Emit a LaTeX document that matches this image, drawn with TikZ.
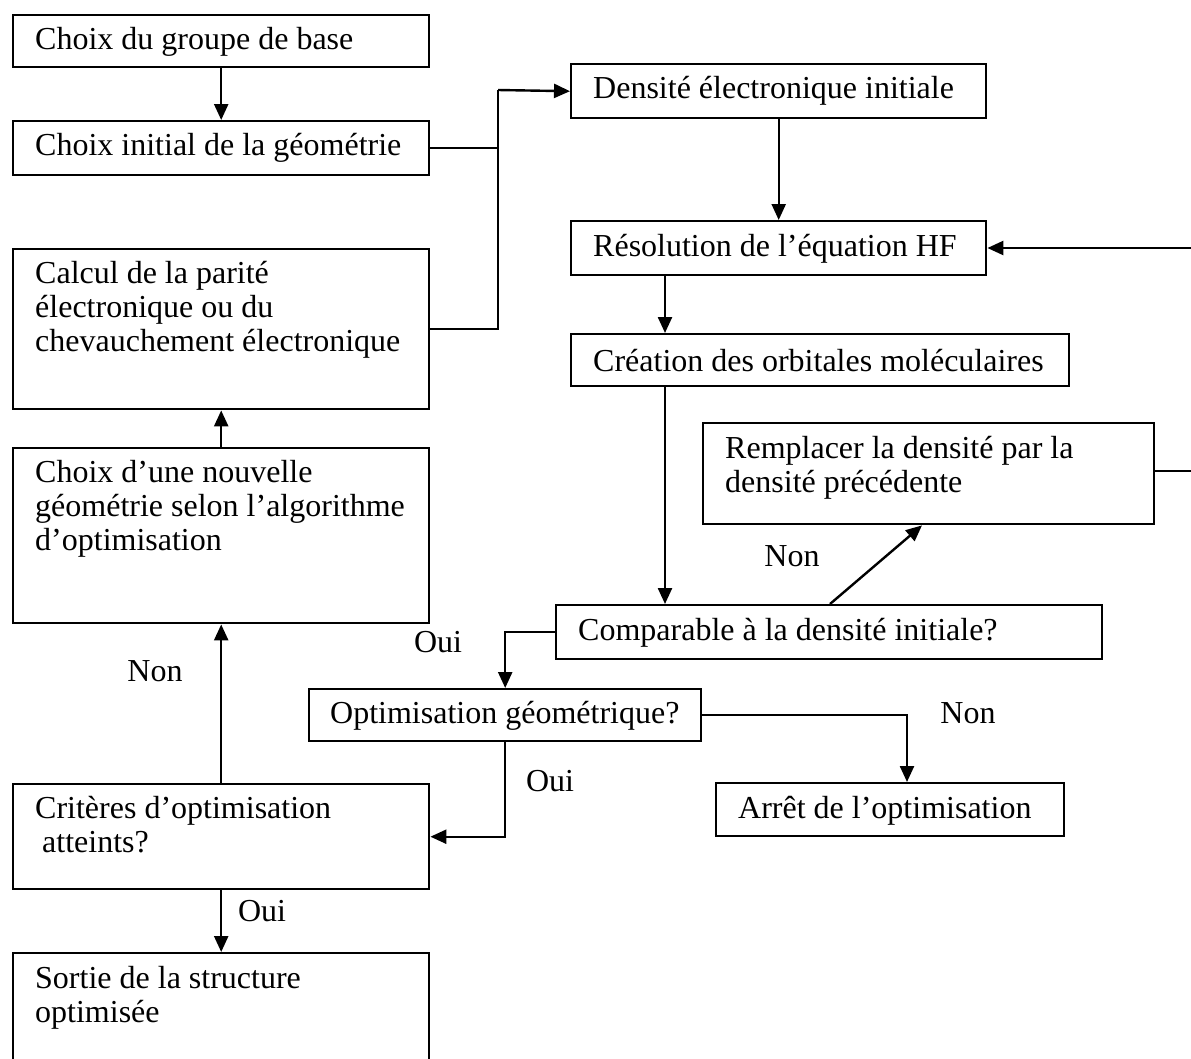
\documentclass[tikz,border=0pt]{standalone}
\usepackage{fontspec}
\setmainfont{Liberation Serif}
\usetikzlibrary{arrows.meta}
\begin{document}
\begin{tikzpicture}[x=1pt,y=-1pt,
  box/.style={draw, line width=2.4pt, rectangle, inner sep=0pt, anchor=north west},
  txt/.style={anchor=west, inner sep=0pt, font=\fontsize{32}{34}\selectfont},
  mtxt/.style={anchor=north west, inner sep=0pt, align=left, font=\fontsize{32}{34}\selectfont},
  lbl/.style={inner sep=0pt, font=\fontsize{32}{34}\selectfont},
  conn/.style={line width=2.4pt},
  arr/.style={line width=2.4pt, -{Triangle[length=16pt,width=14pt]}}]
\clip (0,0) rectangle (1191,1058);
\fill[white] (0,0) rectangle (1191,1058);
% left column
\node[box, minimum width=416pt, minimum height=52pt] (b1) at (12,14) {};
\node[txt] (t1) at (35,42) {Choix du groupe de base};
\node[box, minimum width=416pt, minimum height=54pt] (b2) at (12,120) {};
\node[txt] (t2) at (35,148) {Choix initial de la géométrie};
\node[box, minimum width=416pt, minimum height=160pt] (b3) at (12,248) {};
\node[mtxt] (t3) at (35,261) {Calcul de la parité\\électronique ou du\\chevauchement électronique};
\node[box, minimum width=416pt, minimum height=175pt] (b4) at (12,447) {};
\node[mtxt] (t4) at (35,460) {Choix d’une nouvelle\\géométrie selon l’algorithme\\d’optimisation};
\node[box, minimum width=416pt, minimum height=105pt] (b5) at (12,783) {};
\node[mtxt] (t5) at (35,796) {Critères d’optimisation\\\hspace*{7pt}atteints?};
\node[box, minimum width=416pt, minimum height=160pt] (b6) at (12,952) {};
\node[mtxt] (t6) at (35,966) {Sortie de la structure\\optimisée};
% right column
\node[box, minimum width=415pt, minimum height=54pt] (d1) at (570,63) {};
\node[txt] (u1) at (593,91) {Densité électronique initiale};
\node[box, minimum width=415pt, minimum height=54pt] (d2) at (570,220) {};
\node[txt] (u2) at (593,249) {Résolution de l’équation HF};
\node[box, minimum width=498pt, minimum height=52pt] (d3) at (570,333) {};
\node[txt] (u3) at (593,361) {Création des orbitales moléculaires};
\node[box, minimum width=451pt, minimum height=101pt] (d4) at (702,422) {};
\node[mtxt] (u4) at (725,436) {Remplacer la densité par la\\densité précédente};
\node[box, minimum width=546pt, minimum height=54pt] (d5) at (555,604) {};
\node[txt] (u5) at (578,633) {Comparable à la densité initiale?};
\node[box, minimum width=392pt, minimum height=52pt] (d6) at (308,688) {};
\node[txt] (u6) at (330,716) {Optimisation géométrique?};
\node[box, minimum width=348pt, minimum height=53pt] (d7) at (715,782) {};
\node[txt] (u7) at (738,811) {Arrêt de l’optimisation};
% labels
\node[lbl] (l1) at (792,556) {Non};
\node[lbl] (l2) at (438,642) {Oui};
\node[lbl] (l3) at (155,671) {Non};
\node[lbl] (l4) at (968,713) {Non};
\node[lbl] (l5) at (550,781) {Oui};
\node[lbl] (l6) at (262,911) {Oui};
% helper coordinates
\coordinate (j1) at (498,90);
\coordinate (e1) at (1191,248);
\coordinate (e2) at (1191,471);
\coordinate (c665) at (665,0);
\coordinate (c830) at (830,0);
\coordinate (c922) at (922,0);
\coordinate (c908) at (907,0);
% connectors
\draw[arr] (b1.south) -- (b2.north);
\draw[conn] (b2.east) -| (j1);
\draw[conn] (b3.east) -| (j1);
\draw[arr] (j1) -- (d1.west);
\draw[arr] (d1.south) -- (d2.north);
\draw[arr] (e1) -- (d2.east |- e1);
\draw[arr] (d2.south -| c665) -- (d3.north -| c665);
\draw[arr] (d3.south -| c665) -- (d5.north -| c665);
\draw[conn] (d4.east |- e2) -- (e2);
\draw[arr] (d5.north -| c830) -- (d4.south -| c922);
\draw[arr] (d5.west) -| (d6.north);
\draw[arr] (d6.east) -| (d7.north -| c908);
\draw[arr] (d6.south) |- (b5.east);
\draw[arr] (b5.north) -- (b4.south);
\draw[arr] (b4.north) -- (b3.south);
\draw[arr] (b5.south) -- (b6.north);
\end{tikzpicture}
\end{document}
